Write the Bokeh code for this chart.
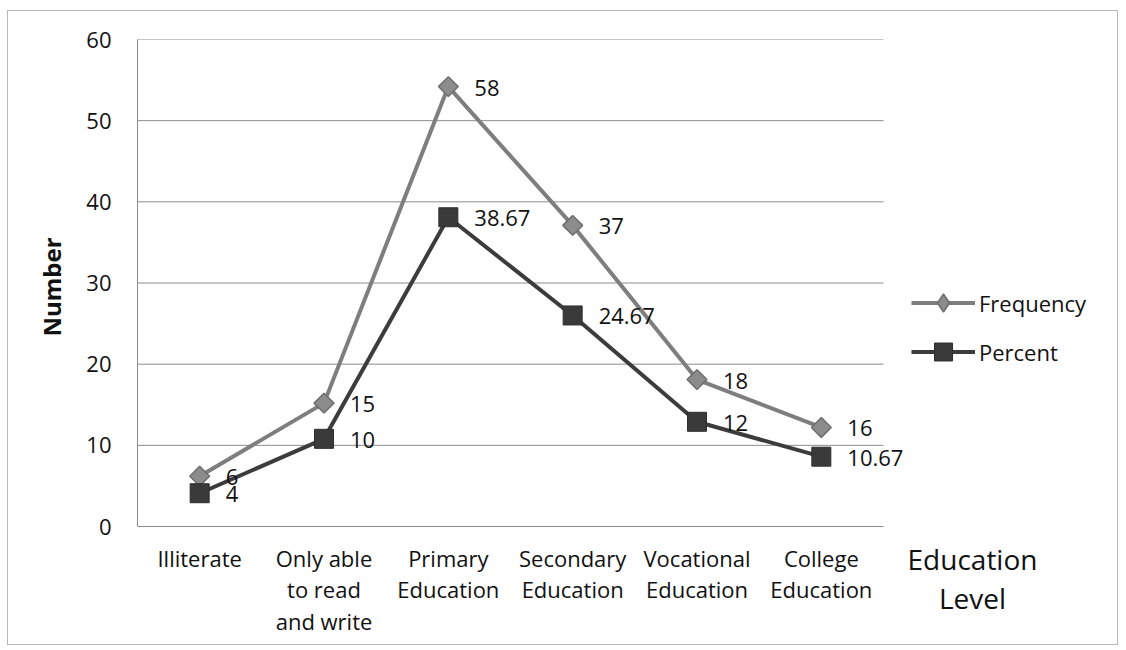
from bokeh.plotting import figure
from bokeh.models import (Range1d, ColumnDataSource, LabelSet, Label, Title,
                          Legend, LegendItem, FixedTicker)
from bokeh.core.properties import value
from bokeh.embed import file_html
from bokeh.resources import INLINE

categories = ["Illiterate", "Only able\nto read\nand write", "Primary\nEducation",
              "Secondary\nEducation", "Vocational\nEducation", "College\nEducation"]
frequency = [6.2, 15.2, 54.2, 37.1, 18.1, 12.2]
frequency_labels = ["6", "15", "58", "37", "18", "16"]
percent = [4.1, 10.8, 38.1, 26.0, 12.9, 8.6]
percent_labels = ["4", "10", "38.67", "24.67", "12", "10.67"]
y_ticks = [0, 10, 20, 30, 40, 50, 60]

FONT = value("Open Sans")
TEXT = "#111111"
FREQ_LINE, FREQ_FILL, FREQ_EDGE = "#7e7e7e", "#8c8c8c", "#6e6e6e"
PCT_LINE, PCT_FILL, PCT_EDGE = "#3c3c3c", "#3a3a3a", "#2e2e2e"

# layout (pixels)
FIG_W, FIG_H = 1111, 635
BORDER_L, BORDER_T = 129, 28
FRAME_W, FRAME_H = FIG_W - BORDER_L, FIG_H - BORDER_T
CAT_W = 746          # width occupied by the category slots
VAL_H = 487          # height occupied by 0..60

n = len(categories)
x_pos = [i + 0.5 for i in range(n)]
px_x = CAT_W / n
px_y = VAL_H / y_ticks[-1]
x_end = FRAME_W / px_x
y_start = y_ticks[-1] - FRAME_H / px_y

p = figure(width=FIG_W, height=FIG_H, x_range=Range1d(0, x_end),
           y_range=Range1d(y_start, y_ticks[-1]),
           output_backend="svg", toolbar_location=None, x_axis_location=None,
           min_border_left=BORDER_L, min_border_right=0, min_border_top=BORDER_T,
           min_border_bottom=0)
p.styles = {"border": "1px solid #b8b8b8", "margin-left": "7px", "margin-top": "10px"}
p.outline_line_color = None
p.xgrid.visible = False
p.ygrid.visible = False

# y axis
ya = p.yaxis[0]
ya.ticker = FixedTicker(ticks=y_ticks)
ya.bounds = (y_ticks[0], y_ticks[-1])
ya.axis_line_color = "#8c8c8c"
ya.major_tick_in = 0
ya.major_tick_out = 0
ya.minor_tick_in = 0
ya.minor_tick_out = 0
ya.major_label_text_font = "Open Sans"
ya.major_label_text_font_size = "22px"
ya.major_label_text_color = TEXT
ya.major_label_standoff = 26

# y axis title, placed along the 0..60 span
p.add_layout(Title(text="Number", align="left", offset=FRAME_H - VAL_H + 190,
                   text_font="Open Sans", text_font_size="24px", text_font_style="bold",
                   text_color=TEXT, standoff=31), "left")

# horizontal gridlines (spanning the category area only)
p.segment(x0=0, x1=n, y0=y_ticks, y1=y_ticks, line_color="#8c8c8c", line_width=1)

# category labels
p.text(x=x_pos, y=[-16 / px_y] * n, text=categories, text_font=FONT,
       text_font_size="22px", text_color=TEXT, text_align="center",
       text_baseline="top", text_line_height=1.05)

src = ColumnDataSource(dict(x=x_pos, freq=frequency, freq_lab=frequency_labels,
                            pct=percent, pct_lab=percent_labels))

f_line = p.line("x", "freq", source=src, line_color=FREQ_LINE, line_width=4)
# diamond symbol (used as the legend key; covered by the rotated squares below)
f_key = p.scatter("x", "freq", source=src, marker="diamond", size=14,
                  fill_color=FREQ_FILL, line_color=FREQ_EDGE, line_width=1.5)
f_mark = p.scatter("x", "freq", source=src, marker="square", angle=0.785, size=14,
                   fill_color=FREQ_FILL, line_color=FREQ_EDGE, line_width=1.5)
p_line = p.line("x", "pct", source=src, line_color=PCT_LINE, line_width=4)
p_mark = p.scatter("x", "pct", source=src, marker="square", size=19,
                   fill_color=PCT_FILL, line_color=PCT_EDGE, line_width=1)

for field, lab in (("freq", "freq_lab"), ("pct", "pct_lab")):
    p.add_layout(LabelSet(x="x", y=field, text=lab, source=src, x_offset=26, y_offset=-1,
                          text_font=FONT, text_font_size="22px", text_color=TEXT,
                          text_baseline="middle", text_align="left"))

legend = Legend(items=[LegendItem(label="Frequency", renderers=[f_line, f_key]),
                       LegendItem(label="Percent", renderers=[p_line, p_mark])],
                location=(774, FRAME_H - (373 - 38)), orientation="vertical")
legend.label_text_font = "Open Sans"
legend.label_text_font_size = "22px"
legend.label_text_color = TEXT
legend.glyph_width = 64
legend.glyph_height = 45
legend.label_height = 45
legend.spacing = 4
legend.padding = 0
legend.margin = 0
legend.label_standoff = 4
legend.border_line_color = None
legend.background_fill_alpha = 0
p.add_layout(legend)

p.add_layout(Label(x=835 / px_x, y=-13 / px_y, text="Education\nLevel",
                   text_font="Open Sans", text_font_size="28px", text_color=TEXT,
                   text_align="center", text_baseline="top", text_line_height=1.05))

open("out.html", "w").write(file_html(p, INLINE))
